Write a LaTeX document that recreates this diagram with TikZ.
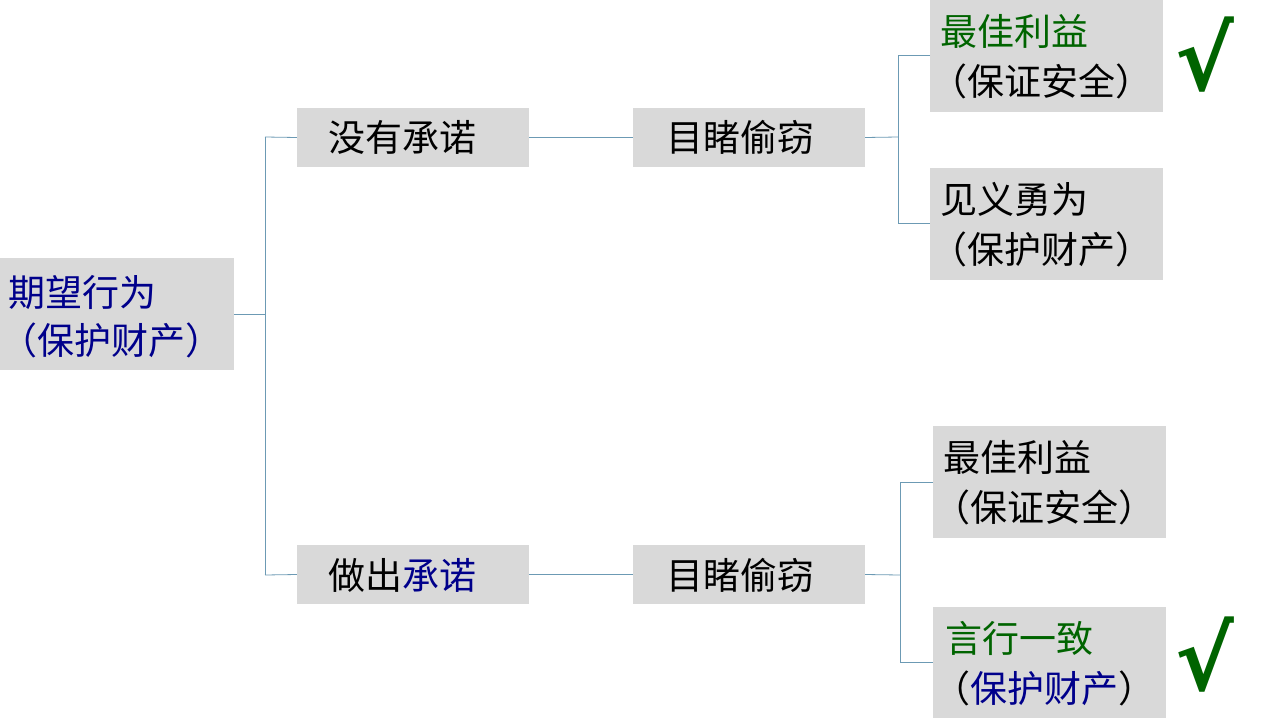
\documentclass[tikz,border=0pt]{standalone}
\usepackage{fontspec}
\newfontfamily\cjk{Noto Sans CJK SC}
\newfontfamily\dv{DejaVu Sans}
\definecolor{boxg}{HTML}{D9D9D9}
\definecolor{dblue}{HTML}{00008B}
\definecolor{dgreen}{HTML}{006400}
\definecolor{lnc}{HTML}{6C9AB4}
\begin{document}
\begin{tikzpicture}[x=1pt,y=-1pt,
  bx/.style={fill=boxg,draw=none,inner sep=0pt},
  tx/.style={font=\cjk\fontsize{37}{44}\selectfont,anchor=west,inner sep=0pt},
  ln/.style={draw=lnc,line width=0.8pt},
  ck/.style={font=\dv\bfseries\fontsize{88}{88}\selectfont,text=dgreen,inner sep=0pt}]
\useasboundingbox (0,0) rectangle (1280,720);
\fill[white] (0,0) rectangle (1280,720);
% boxes
\path[bx] (0,258) rectangle (234,370);
\node[bx,minimum width=232,minimum height=59] (a) at (413,137.5) {};
\node[bx,minimum width=232,minimum height=59] (b) at (749,137.5) {};
\node[bx,minimum width=232,minimum height=59] (c) at (413,574.5) {};
\node[bx,minimum width=232,minimum height=59] (d) at (749,574.5) {};
\path[bx] (930,0) rectangle (1163,112);
\path[bx] (930,168) rectangle (1163,280);
\path[bx] (933,426) rectangle (1166,538);
\path[bx] (933,607) rectangle (1166,718);
% texts
\node[tx,text=dblue] (t0) at (8,292) {期望行为};
\node[tx,text=dblue] (t0b) at (0,340) {（保护财产）};
\node[tx] at (328,137) {没有承诺};
\node[tx] at (666,137) {目睹偷窃};
\node[tx] at (328,575) {做出\textcolor{dblue}{承诺}};
\node[tx] at (666,575) {目睹偷窃};
\node[tx,text=dgreen] at (940,31) {最佳利益};
\node[tx] at (930,81) {（保证安全）};
\node[tx] at (940,199) {见义勇为};
\node[tx] at (930,249) {（保护财产）};
\node[tx] at (943,457) {最佳利益};
\node[tx] at (933,507) {（保证安全）};
\node[tx,text=dgreen] at (945,638) {言行一致};
\node[tx] at (933,688) {（\textcolor{dblue}{保护财产}）};
\node[ck] at (1205,55) {√};
\node[ck] at (1205,655) {√};
% connectors
\coordinate (j0) at (265,314);
\draw[ln] (234,314) -- (j0);
\draw[ln] (265,137) -- (265,575);
\draw[ln] (265,137) -- (a.west);
\draw[ln] (265,575) -- (c.west);
\draw[ln] (a.east) -- (b.west);
\draw[ln] (c.east) -- (d.west);
\draw[ln] (b.east) -- (898,137);
\draw[ln] (930,55) -- (898,55) -- (898,223) -- (930,223);
\draw[ln] (d.east) -- (900,575);
\draw[ln] (933,482) -- (900,482) -- (900,662) -- (933,662);
\end{tikzpicture}
\end{document}
